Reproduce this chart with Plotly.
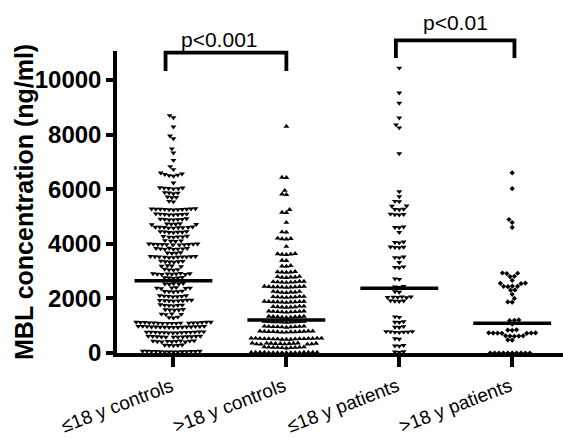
import math
import plotly.graph_objects as go

categories = ["≤18 y controls", ">18 y controls", "≤18 y patients", ">18 y patients"]

# MBL concentrations (ng/ml), row by row
young_controls = [
    8700, 8620, 8280, 7950, 7850, 7480, 7330, 7060, 6830, 6720,
    6520, 6500, 6480, 6540, 6560, 6600,
    6230,
    6030, 6010, 6050, 6040, 6020, 6060,
    5860, 5880, 5840, 5870,
    5700, 5720, 5690,
    5540, 5560,
    5270, 5250, 5280, 5260, 5290, 5240, 5270, 5250, 5280, 5260, 5270,
    5080, 5060, 5090, 5070, 5100, 5080, 5060, 5090,
    4900, 4880, 4910, 4890, 4920, 4900, 4880,
    4720, 4740, 4710, 4730, 4720, 4700,
    4600, 4580, 4610, 4590, 4620, 4600, 4580, 4610, 4590,
    4430, 4450, 4420, 4440, 4430, 4410, 4450,
    4260, 4280, 4250, 4270, 4260, 4240,
    4100, 4120, 4090, 4110,
    3980, 3960, 3990, 3970, 4000, 3980, 3960, 3990, 3970, 4000, 3980,
    3820, 3800, 3830, 3810, 3840, 3820, 3800, 3830,
    3660, 3680, 3650, 3670,
    3520, 3500, 3530, 3510, 3540, 3520, 3500, 3530, 3510, 3540, 3520,
    3350, 3370, 3340, 3360, 3350, 3330,
    3180, 3200, 3170, 3190,
    3060, 3040, 3070, 3050,
    2900, 2880, 2910, 2890, 2920, 2900, 2880, 2910, 2890,
    2750, 2770, 2740, 2760, 2750,
    2530, 2550, 2520, 2540, 2530,
    2380, 2400, 2370, 2390, 2380, 2360,
    2250, 2270, 2240, 2260, 2250,
    2080, 2100, 2070, 2090, 2080, 2060, 2100,
    1920, 1940, 1910, 1930, 1920, 1900, 1940, 1910,
    1750, 1770, 1740, 1760, 1750, 1730,
    1580, 1600, 1570, 1590, 1580,
    1420, 1440, 1410, 1430,
    1300, 1320, 1290,
    1110, 1090, 1120, 1100, 1130, 1110, 1090, 1120, 1100, 1130,
    1110, 1090, 1120, 1100, 1130, 1110, 1090,
    960, 940, 970, 950, 980, 960, 940, 970, 950, 980,
    960, 940, 970, 950, 980, 960,
    760, 740, 770, 750, 780, 760, 740, 770, 750, 780,
    760, 740, 770, 750,
    600, 580, 610, 590, 620, 600, 580, 610, 590, 620, 600, 580,
    430, 410, 440, 420, 450, 430, 410, 440, 420, 450,
    280, 300, 270, 290, 280,
    60, 40, 70, 50, 60, 40, 70, 50, 60, 40, 70, 50, 60, 40,
]

adult_controls = [
    8300,
    6420, 6430,
    5950, 5820, 5800,
    5250, 5150, 5140,
    4780,
    4420, 4430,
    4180, 4200, 4170, 4190,
    3900,
    3620, 3640, 3610, 3630, 3600,
    3380, 3390,
    3180, 3200, 3170,
    2960, 2980, 2950, 2970, 2960,
    2780, 2800, 2770, 2790, 2780, 2760,
    2600, 2620, 2590, 2610, 2600, 2580, 2620, 2590,
    2420, 2440, 2410, 2430, 2420, 2400, 2440, 2410, 2430, 2420,
    2230, 2250, 2220, 2240, 2230, 2210, 2250,
    2050, 2070, 2040, 2060, 2050, 2030, 2070, 2040,
    1870, 1890, 1860, 1880, 1870, 1850, 1890, 1860, 1880, 1870,
    1690, 1710, 1680, 1700, 1690, 1670, 1710, 1680,
    1510, 1530, 1500, 1520, 1510, 1490, 1530, 1500, 1520,
    1320, 1340, 1310, 1330, 1320, 1300, 1340, 1310, 1330,
    1140, 1160, 1130, 1150, 1140, 1120, 1160, 1130, 1150, 1140,
    960, 980, 950, 970, 960, 940, 980, 950, 970, 960,
    780, 800, 770, 790, 780, 760, 800, 770, 790, 780, 760, 800, 770,
    520, 540, 510, 530, 520, 500, 540, 510, 530, 520, 500, 540, 510, 530, 520, 500, 540,
    340, 360, 330, 350, 340, 320, 360, 330, 350, 340, 320, 360, 330, 350,
    200, 220, 190, 210, 200, 180, 220, 190, 210, 200,
    20, 10, 20, 10, 20, 10, 20, 10, 20, 10, 20, 10, 20, 10, 20, 10,
]

young_patients = [
    10440, 9530, 9150, 8610, 8360, 8250, 7300,
    5910, 5730, 5550, 5560, 5380, 5390,
    5260, 5270, 5250,
    5070, 5080, 5060, 5090,
    4600, 4620, 4590,
    4420,
    4050, 4070, 4040,
    3870, 3890, 3860, 3880,
    3500, 3520, 3490,
    3320,
    3140, 3160, 3130,
    2700, 2720,
    2420, 2440, 2410,
    2230, 2250,
    2040, 2060, 2030, 2050, 2040, 2060,
    1900, 1920, 1890, 1910,
    1310, 1330,
    1130, 1150, 1120,
    950, 970, 940,
    770, 790, 760, 780, 770, 750, 790,
    510, 530,
    260, 280, 250,
    40, 50, 30,
]

adult_patients = [
    6600, 6020, 4890, 4780, 4600,
    2920, 2930, 2910,
    2810, 2800,
    2660,
    2550, 2560, 2540,
    2440, 2450, 2430, 2440,
    2300, 2310,
    2150, 2000,
    1860, 1870,
    1200, 1210, 1190,
    1060,
    840, 850, 830,
    730, 740, 720, 730, 740, 720, 730,
    620, 630, 610, 620, 630,
    470, 480,
    0, 0, 0, 0, 0, 0, 0, 0, 0, 0,
]

medians = [2650, 1210, 2370, 1090]
comparisons = [(0, 1, "p<0.001"), (2, 3, "p<0.01")]

groups = [young_controls, adult_controls, young_patients, adult_patients]
symbols = ["triangle-down", "triangle-up", "triangle-down", "diamond"]
sizes = [5.2, 5.2, 5.2, 4.0]

FONT = "Liberation Sans, Arial, sans-serif"

# layout geometry
W, H = 563, 439
ML, MR, MT, MB = 117, 0, 51, 86
X0, X1 = -0.5, 3.45
YMAX = 11060
PW, PH = W - ML - MR, H - MT - MB
px_per_cat = PW / (X1 - X0)
px_per_val = PH / YMAX


def swarm(values, d):
    order = sorted(range(len(values)), key=lambda i: values[i])
    placed = []
    xs = [0.0] * len(values)
    for i in order:
        y = values[i] * px_per_val
        near = [(px, py) for px, py in placed if abs(py - y) < d]
        cands = [0.0]
        for px, py in near:
            dx = math.sqrt(max(d * d - (py - y) ** 2, 0))
            cands += [px + dx, px - dx]
        cands.sort(key=lambda c: (round(abs(c), 6), c))
        for c in cands:
            if all((c - px) ** 2 + (y - py) ** 2 >= d * d - 1e-6 for px, py in near):
                xs[i] = c
                placed.append((c, y))
                break
    return [x / px_per_cat for x in xs]


fig = go.Figure()
for k, vals in enumerate(groups):
    offs = swarm(vals, 4.4)
    fig.add_trace(go.Scatter(
        x=[k + o for o in offs], y=vals, mode="markers",
        marker=dict(symbol=symbols[k], size=sizes[k], color="black", line=dict(width=0)),
        showlegend=False, hoverinfo="y",
    ))

# median lines
for k, m in enumerate(medians):
    fig.add_shape(type="line", xref="x", yref="y", x0=k - 0.345, x1=k + 0.345, y0=m, y1=m,
                  line=dict(color="black", width=3.5))

# significance brackets
bracket_geom = [
    dict(dl=-0.07, dr=0.0, top=11000, bot=10330, label_y=11480, label_dx=-0.06),
    dict(dl=-0.03, dr=0.02, top=11450, bot=10800, label_y=12110, label_dx=0.0),
]
for (a, b, lab), g in zip(comparisons, bracket_geom):
    xl, xr = a + g["dl"], b + g["dr"]
    fig.add_shape(type="path", xref="x", yref="paper",
                  path=f"M {xl},{g['bot']/YMAX} L {xl},{g['top']/YMAX} L {xr},{g['top']/YMAX} L {xr},{g['bot']/YMAX}",
                  line=dict(color="black", width=3.8))
    fig.add_annotation(x=(xl + xr) / 2 + g["label_dx"], y=g["label_y"] / YMAX, xref="x", yref="paper",
                       text=lab, showarrow=False, xanchor="center", yanchor="middle",
                       font=dict(family=FONT, size=21, color="black"))

# category labels (rotated)
for k, lab in enumerate(categories):
    fig.add_annotation(x=k + 4 / px_per_cat, y=-(373 - (H - MB)) / PH, xref="x", yref="paper",
                       text=lab, textangle=-21, showarrow=False, xanchor="right", yanchor="top",
                       borderpad=0, font=dict(family=FONT, size=19, color="black"))

fig.add_annotation(x=(24 - ML) / PW, y=0.5, xref="paper", yref="paper",
                   text="<b>MBL concentration (ng/ml)</b>", textangle=-90, showarrow=False,
                   xanchor="center", yanchor="middle",
                   font=dict(family=FONT, size=25, color="black"))

fig.update_layout(
    width=W, height=H, autosize=False,
    margin=dict(l=ML, r=MR, t=MT, b=MB, pad=0),
    paper_bgcolor="white", plot_bgcolor="white",
    font=dict(family=FONT, color="black"),
    xaxis=dict(range=[X0, X1], tickmode="array", tickvals=[0, 1, 2, 3], showticklabels=False,
               ticks="outside", ticklen=10, tickwidth=3.5, tickcolor="black",
               showline=True, linewidth=3.5, linecolor="black", showgrid=False, zeroline=False),
    yaxis=dict(range=[0, YMAX], tickmode="array", tickvals=[0, 2000, 4000, 6000, 8000, 10000],
               ticktext=["<b>0</b>", "<b>2000</b>", "<b>4000</b>", "<b>6000</b>", "<b>8000</b>", "<b>10000</b>"],
               ticks="outside", ticklen=7, tickwidth=3.5, tickcolor="black",
               showline=True, linewidth=3.5, linecolor="black", showgrid=False, zeroline=False,
               tickfont=dict(size=24, family=FONT, color="black")),
)

fig.write_html("out.html")
